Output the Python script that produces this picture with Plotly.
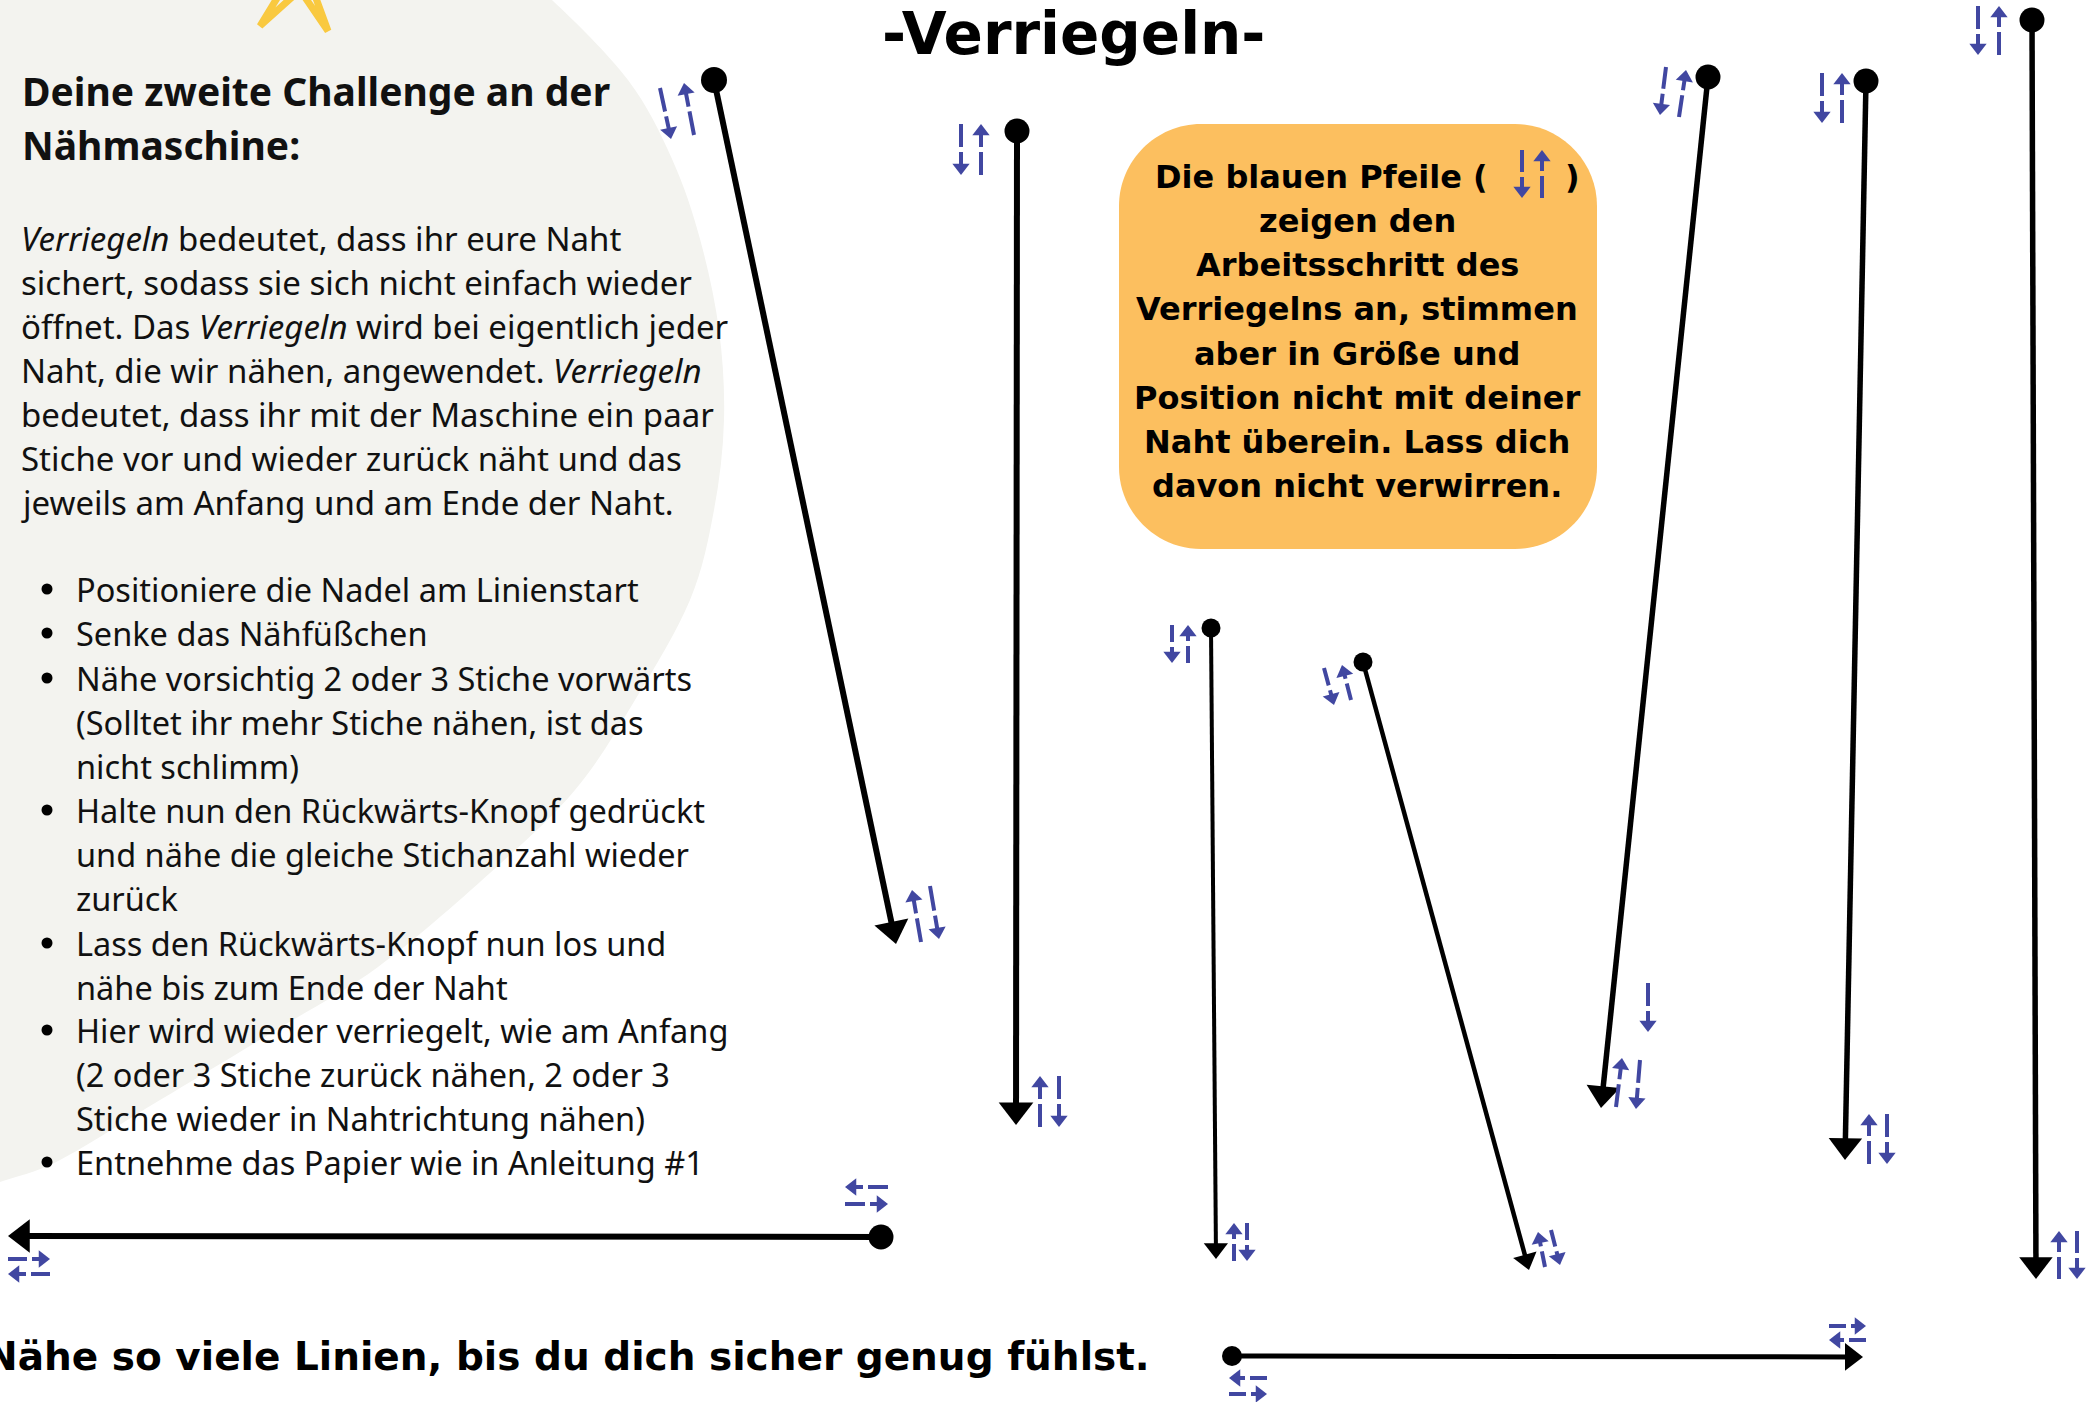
import numpy as np
import plotly.graph_objects as go

W, H = 2098, 1402

# ---------------- data ----------------
# seams: start dot (x0,y0) -> arrow tip (x1,y1)
seam_x0 = [714, 1017, 1211, 1363, 1708, 1866, 2032, 881, 1232]
seam_y0 = [80, 131, 628, 662, 77, 81, 20, 1237, 1356]
seam_x1 = [896, 1016, 1216, 1529, 1601, 1845, 2036, 8, 1863]
seam_y1 = [944, 1125, 1259, 1270, 1108, 1160, 1279, 1236, 1357]

# blue "lock stitch" hint arrows: start -> tip
hint_x0 = [660, 694, 921, 930, 961, 981, 1040, 1059, 1172, 1188, 1234, 1247,
           1324, 1351, 1545, 1551, 1666, 1679, 1616, 1640, 1648, 1822, 1842,
           1869, 1887, 1978, 1999, 2059, 2077, 888, 845, 8, 50, 1267, 1229,
           1829, 1866, 1522, 1542]
hint_y0 = [88, 135, 942, 886, 124, 175, 1127, 1076, 625, 663, 1261, 1223,
           668, 700, 1267, 1230, 67, 117, 1107, 1060, 983, 73, 123,
           1164, 1114, 6, 55, 1279, 1231, 1187, 1204, 1259, 1274, 1378, 1394,
           1326, 1340, 150, 198]
hint_x1 = [671, 684, 912, 939, 961, 981, 1040, 1059, 1172, 1188, 1234, 1247,
           1334, 1342, 1538, 1560, 1660, 1686, 1622, 1636, 1648, 1822, 1842,
           1869, 1887, 1978, 1999, 2059, 2077, 845, 888, 50, 8, 1229, 1267,
           1866, 1829, 1522, 1542]
hint_y1 = [139, 83, 890, 939, 175, 124, 1076, 1127, 663, 625, 1223, 1261,
           705, 665, 1232, 1265, 115, 70, 1058, 1109, 1032, 123, 73,
           1114, 1164, 55, 6, 1231, 1279, 1187, 1204, 1259, 1274, 1378, 1394,
           1326, 1340, 198, 150]

title_lines = ["Deine zweite Challenge an der", "Nähmaschine:"]
body_lines = [
    "<i>Verriegeln</i> bedeutet, dass ihr eure Naht",
    "sichert, sodass sie sich nicht einfach wieder",
    "öffnet. Das <i>Verriegeln</i> wird bei eigentlich jeder",
    "Naht, die wir nähen, angewendet. <i>Verriegeln</i>",
    "bedeutet, dass ihr mit der Maschine ein paar",
    "Stiche vor und wieder zurück näht und das",
    "jeweils am Anfang und am Ende der Naht.",
]
list_lines = [
    "Positioniere die Nadel am Linienstart",
    "Senke das Nähfüßchen",
    "Nähe vorsichtig 2 oder 3 Stiche vorwärts",
    "(Solltet ihr mehr Stiche nähen, ist das",
    "nicht schlimm)",
    "Halte nun den Rückwärts-Knopf gedrückt",
    "und nähe die gleiche Stichanzahl wieder",
    "zurück",
    "Lass den Rückwärts-Knopf nun los und",
    "nähe bis zum Ende der Naht",
    "Hier wird wieder verriegelt, wie am Anfang",
    "(2 oder 3 Stiche zurück nähen, 2 oder 3",
    "Stiche wieder in Nahtrichtung nähen)",
    "Entnehme das Papier wie in Anleitung #1",
]
list_bullet = [1, 1, 1, 0, 0, 1, 0, 0, 1, 0, 1, 0, 0, 1]
box_lines = [
    "zeigen den",
    "Arbeitsschritt des",
    "Verriegelns an, stimmen",
    "aber in Größe und",
    "Position nicht mit deiner",
    "Naht überein. Lass dich",
    "davon nicht verwirren.",
]
box_first = ["Die blauen Pfeile (", ")"]
header_text = "-Verriegeln-"
footer_text = "Nähe so viele Linien, bis du dich sicher genug fühlst."

# decoration outlines
blob_x = [500, 552, 628, 672, 700, 719, 724, 714, 690, 635, 575, 490, 378, 271, 160, 60, 0, -40]
blob_y = [-40, 0, 80, 159, 239, 330, 420, 510, 600, 700, 790, 873, 967, 1033, 1100, 1160, 1182, 1195]
box_bounds = [1119, 124, 1597, 549]

# ---------------- styles ----------------
INK = "#000000"
TEXT = "#111111"
BLUE = "#4147A1"
GRAY = "#F3F3EF"
ORANGE = "#FCBF5F"
YELLOW = "#F9C940"
SANS = "Noto Sans"
HAND = "DejaVu Sans"

seam_width = [6, 6, 4, 4.5, 5.5, 5.5, 5.5, 6, 5]
dot_size = [26, 25, 19, 19, 25, 25, 25, 25, 20]
head_size = [30, 30, 21, 21, 29, 29, 29, 29, 24]

fig = go.Figure()

# blob background (Catmull-Rom smoothed)
pts = np.array(list(zip(blob_x, blob_y)), dtype=float)
path = f"M {pts[0][0]:.1f},{pts[0][1]:.1f}"
for i in range(len(pts) - 1):
    p0 = pts[i - 1] if i > 0 else pts[i]
    p1 = pts[i]
    p2 = pts[i + 1]
    p3 = pts[i + 2] if i + 2 < len(pts) else pts[i + 1]
    c1 = p1 + (p2 - p0) / 6
    c2 = p2 - (p3 - p1) / 6
    path += f" C {c1[0]:.1f},{c1[1]:.1f} {c2[0]:.1f},{c2[1]:.1f} {p2[0]:.1f},{p2[1]:.1f}"
path += " L -60,1200 L -60,-60 Z"
shapes = [dict(type="path", path=path, fillcolor=GRAY, line=dict(width=0), layer="below")]

# orange rounded box
bx0, by0, bx1, by1 = box_bounds
r = 82
box_path = (f"M {bx0+r},{by0} H {bx1-r} C {bx1-r*0.45},{by0} {bx1},{by0+r*0.45} {bx1},{by0+r} "
            f"V {by1-r} C {bx1},{by1-r*0.45} {bx1-r*0.45},{by1} {bx1-r},{by1} "
            f"H {bx0+r} C {bx0+r*0.45},{by1} {bx0},{by1-r*0.45} {bx0},{by1-r} "
            f"V {by0+r} C {bx0},{by0+r*0.45} {bx0+r*0.45},{by0} {bx0+r},{by0} Z")
shapes.append(dict(type="path", path=box_path, fillcolor=ORANGE, line=dict(width=0), layer="below"))

# yellow star points peeking in at the top
shapes.append(dict(type="path", path="M 282,-10 L 260,26 L 300,-10", line=dict(color=YELLOW, width=7), layer="below"))
shapes.append(dict(type="path", path="M 300,-10 L 328,31 L 313,-10", line=dict(color=YELLOW, width=7), layer="below"))

# seams
for i in range(len(seam_x0)):
    x0, y0, x1, y1 = seam_x0[i], seam_y0[i], seam_x1[i], seam_y1[i]
    d = np.array([x1 - x0, y1 - y0], dtype=float)
    d /= np.linalg.norm(d)
    ex, ey = x1 - d[0] * head_size[i] * 0.5, y1 - d[1] * head_size[i] * 0.5
    fig.add_trace(go.Scatter(
        x=[x0, ex], y=[y0, ey], mode="lines+markers",
        line=dict(color=INK, width=seam_width[i]),
        marker=dict(symbol="triangle-up", size=[0, head_size[i]], opacity=1,
                    color=INK, angleref="previous", line=dict(width=0)),
        hoverinfo="skip", showlegend=False))

# start dots
fig.add_trace(go.Scatter(
    x=seam_x0, y=seam_y0, mode="markers",
    marker=dict(symbol="circle", size=dot_size, color=INK, opacity=1, line=dict(width=0)),
    hoverinfo="skip", showlegend=False))

# blue hint arrows
for i in range(len(hint_x0)):
    x0, y0, x1, y1 = hint_x0[i], hint_y0[i], hint_x1[i], hint_y1[i]
    d = np.array([x1 - x0, y1 - y0], dtype=float)
    L = np.linalg.norm(d)
    d /= L
    hs = 15
    ex, ey = x1 - d[0] * hs * 0.5, y1 - d[1] * hs * 0.5
    seg = round(L * 0.46)
    fig.add_trace(go.Scatter(
        x=[x0, ex], y=[y0, ey], mode="lines+markers",
        line=dict(color=BLUE, width=4, dash=f"{seg}px,5px,200px"),
        marker=dict(symbol="triangle-up", size=[0, hs], color=BLUE, opacity=1,
                    angleref="previous", line=dict(width=0)),
        hoverinfo="skip", showlegend=False))

ann = []
def txt(x, y, t, size, family=SANS, anchor="left", color=TEXT, bold=False):
    if bold:
        t = f"<b>{t}</b>"
    ann.append(dict(x=x, y=y, xref="x", yref="y", text=t, showarrow=False,
                    xanchor=anchor, yanchor="middle",
                    font=dict(family=family, size=size, color=color)))

title_y = [90, 144]
for t, y in zip(title_lines, title_y):
    txt(20, y, t, 39, bold=True)

body_y = [238, 282, 326, 370, 414, 458, 502]
for t, y in zip(body_lines, body_y):
    txt(19, y, t, 33)

list_y = [589, 633, 678, 722, 766, 810, 854, 898, 943, 987, 1030, 1074, 1118, 1162]
for t, y, b in zip(list_lines, list_y, list_bullet):
    txt(74, y, t, 32.5)

# bullet dots
bullet_y = [y for y, b in zip(list_y, list_bullet) if b]
fig.add_trace(go.Scatter(
    x=[47] * len(bullet_y), y=bullet_y, mode="markers",
    marker=dict(symbol="circle", size=11, color=INK, line=dict(width=0)),
    hoverinfo="skip", showlegend=False))

# box text
txt(1490, 177, box_first[0], 32, family=HAND, anchor="right", bold=True, color=INK)
txt(1563, 177, box_first[1], 32, family=HAND, anchor="left", bold=True, color=INK)
box_y = [221, 265, 309, 354, 398, 442, 486]
for t, y in zip(box_lines, box_y):
    txt(1357, y, t, 32, family=HAND, anchor="center", bold=True, color=INK)

txt(1073, 34, header_text, 58, family=HAND, anchor="center", bold=True, color=INK)
txt(1152, 1356, footer_text, 39, family=HAND, anchor="right", bold=True, color=INK)

fig.update_layout(
    width=W, height=H, margin=dict(l=0, r=0, t=0, b=0),
    paper_bgcolor="white", plot_bgcolor="white",
    xaxis=dict(range=[0, W], visible=False, fixedrange=True),
    yaxis=dict(range=[H, 0], visible=False, fixedrange=True),
    shapes=shapes, annotations=ann, showlegend=False,
)

fig.write_html("out.html", config={"displayModeBar": False},
               post_script="document.body.style.margin='0';document.body.style.overflow='hidden';")
